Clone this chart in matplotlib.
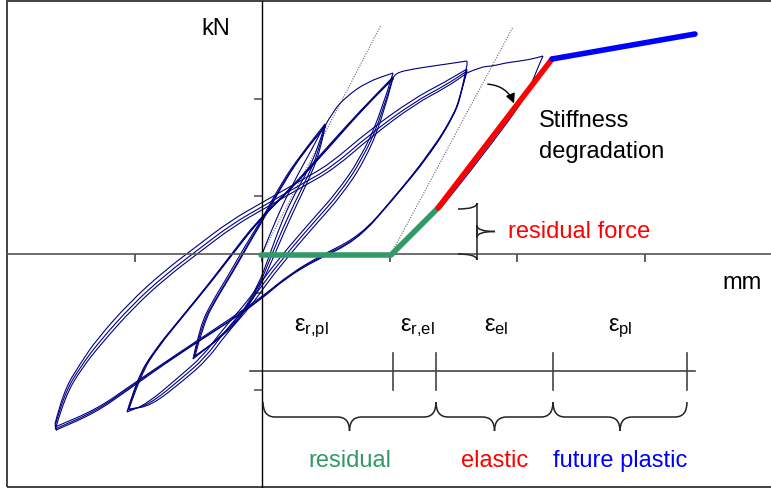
import numpy as np
import matplotlib
matplotlib.use("Agg")
import matplotlib.pyplot as plt
from matplotlib.path import Path
from matplotlib.patches import PathPatch, Rectangle

plt.rcParams['font.family'] = ['Liberation Sans', 'DejaVu Sans']
plt.rcParams['mathtext.fontset'] = 'custom'
plt.rcParams['mathtext.rm'] = 'Liberation Sans'
plt.rcParams['mathtext.it'] = 'Liberation Sans'

# --- hysteresis test record (displacement "mm", force "kN"; arbitrary scale) ---
first_load = [(0, 0), (8, 20), (21, 50), (36, 80), (50, 105), (63, 130)]
a_cycle1 = [(63, 130), (56, 105), (43, 78), (30, 55), (18, 28), (8, 0), (-4, -32), (-22, -62),
            (-44, -85), (-69, -105), (-62, -72), (-50, -48), (-34, -22), (-17, 8), (0, 35),
            (20, 72), (38, 98), (63, 130)]
a_cycle2 = [(63, 128), (57, 103), (45, 76), (33, 52), (21, 26), (10, 0), (-2, -30), (-19, -60),
            (-41, -84), (-68, -103), (-60, -70), (-47, -46), (-31, -20), (-14, 10), (2, 37),
            (22, 73), (40, 100), (63, 128)]
a_cycle3 = [(63, 127), (58, 102), (47, 75), (35, 50), (23, 24), (12, -2), (0, -29), (-17, -58),
            (-39, -82), (-67, -102), (-58, -68), (-45, -44), (-29, -18), (-12, 12), (4, 39),
            (24, 75), (42, 102), (63, 127)]
env_ab = [(63, 128), (71, 143), (85, 158), (105, 172), (131, 181)]
b_cycle1 = [(131, 181), (118, 138), (98, 95), (75, 62), (51, 35), (25, 5), (1, -25), (-15, -48),
            (-39, -75), (-59, -102), (-82, -122), (-115, -150), (-135, -158), (-125, -125),
            (-109, -98), (-82, -65), (-55, -32), (-32, -2), (-5, 33), (28, 65), (68, 110),
            (98, 143), (131, 177)]
b_cycle2 = [(131, 177), (119, 136), (100, 94), (77, 60), (53, 33), (27, 3), (3, -27), (-13, -50),
            (-37, -77), (-57, -104), (-80, -124), (-113, -151), (-134, -156), (-123, -122),
            (-106, -95), (-79, -62), (-52, -29), (-29, 1), (-2, 35), (31, 67), (70, 111),
            (100, 144), (131, 176)]
b_cycle3 = [(131, 176), (120, 134), (102, 92), (79, 58), (55, 31), (29, 1), (5, -29), (-11, -52),
            (-35, -79), (-55, -106), (-78, -126), (-111, -152), (-133, -155), (-121, -120),
            (-104, -93), (-77, -60), (-50, -27), (-27, 3), (0, 37), (33, 69), (72, 112),
            (101, 145), (131, 175)]
env_bc = [(131, 176), (133, 181), (151, 185), (171, 188), (185, 190), (205, 193)]
c_cycle1 = [(205, 193), (205, 189), (200, 165), (195, 145), (171, 105), (131, 55), (98, 18),
            (58, -2), (28, -20), (1, -42), (-32, -65), (-82, -98), (-132, -132), (-165, -155),
            (-207, -173), (-207, -170), (-199, -138), (-182, -110), (-165, -85), (-132, -48),
            (-99, -18), (-65, 8), (-32, 33), (1, 52), (38, 73), (68, 90), (105, 122),
            (151, 155), (183, 172), (205, 185)]
c_cycle2 = [(205, 185), (199, 160), (193, 140), (169, 101), (129, 52), (96, 15), (56, -4),
            (26, -22), (-1, -45), (-34, -68), (-84, -100), (-133, -134), (-166, -157),
            (-207, -175), (-207, -172), (-198, -140), (-181, -112), (-163, -88), (-130, -51),
            (-97, -21), (-63, 5), (-30, 30), (3, 49), (40, 70), (70, 87), (107, 119),
            (152, 152), (184, 169), (205, 183)]
c_cycle3 = [(205, 183), (198, 157), (191, 137), (167, 98), (127, 50), (94, 13), (54, -6),
            (24, -24), (-3, -47), (-36, -70), (-86, -102), (-134, -136), (-167, -159),
            (-206, -176), (-206, -173), (-197, -142), (-180, -114), (-161, -90), (-128, -53),
            (-95, -23), (-61, 3), (-28, 28), (5, 47), (42, 68), (72, 85), (109, 117),
            (153, 150), (185, 167), (205, 181)]
env_cd = [(205, 181), (218, 187), (231, 188), (243, 191), (258, 193), (270, 195), (281, 198)]
d_unload = [(281, 198), (273, 180), (265, 158), (218, 95), (178, 45)]

# initial stiffness and secant lines
stiff_initial = [(0, 0), (119, 229)]
stiff_degraded = [(129, 0), (251, 227)]

# idealised envelope
residual_pts = [(-1, -1), (129, -1), (176, 46)]
elastic_pts = [(176, 46), (290, 195)]
plastic_pts = [(290, 195), (433, 220)]

# strain decomposition
strain_marks = [131, 174, 291, 425]
strain_line = (-12, 433)
eps_labels = [r'$\mathrm{ε_{r{,}pl}}$', r'$\mathrm{ε_{r{,}el}}$', r'$\mathrm{ε_{el}}$', r'$\mathrm{ε_{pl}}$']
eps_x = [49, 155, 234, 358]
parts = [(1, 174, 'residual', '#339966'), (174, 291, 'elastic', '#ff0000'),
         (291, 425, 'future plastic', '#0000ff')]

xticks = [-255, -127.5, 0, 127.5, 255, 382.5]
yticks = [155, 58, -39, -136]

fig = plt.figure(figsize=(7.71, 4.89), dpi=100)
ax = fig.add_axes([7 / 771, 1 / 489, 764 / 771, 486 / 489])
ax.set_xlim(-255, 509)
ax.set_ylim(-233, 253)

for s in ['top', 'right']:
    ax.spines[s].set_visible(False)
ax.spines['left'].set_position(('data', 0))
ax.spines['bottom'].set_position(('data', 0))
ax.spines['left'].set_color('black')
ax.spines['left'].set_linewidth(1.0)
ax.spines['bottom'].set_color('#555555')
ax.spines['bottom'].set_linewidth(1.2)
ax.set_xticks(xticks)
ax.set_yticks(yticks)
ax.tick_params(axis='x', direction='out', length=6, width=1.2, color='#444444', labelbottom=False)
ax.tick_params(axis='y', direction='out', length=6, width=1.3, color='#666666', labelleft=False)

# frame
ax.add_patch(Rectangle((0, 0), 1.02, 1, transform=ax.transAxes, fill=False,
                       lw=1.3, ec='#333333', clip_on=False))

# dotted stiffness lines
for ln in (stiff_initial, stiff_degraded):
    p = np.array(ln)
    ax.plot(p[:, 0], p[:, 1], color='#666666', lw=0.8, ls=(0, (1, 1.3)))

# hysteresis loops: split the record at load reversals, draw each branch as a smooth curve
record = np.array(first_load + a_cycle1 + a_cycle2 + a_cycle3 + env_ab + b_cycle1 + b_cycle2 +
                  b_cycle3 + env_bc + c_cycle1 + c_cycle2 + c_cycle3 + env_cd + d_unload,
                  dtype=float)
sgn = np.sign(np.diff(record[:, 0]))
cuts = [0] + [i for i in range(1, len(sgn)) if sgn[i] != sgn[i - 1]] + [len(record) - 1]
for s0, s1 in zip(cuts[:-1], cuts[1:]):
    seg = record[s0:s1 + 1]
    verts = [seg[0]]
    codes = [Path.MOVETO]
    for i in range(1, len(seg) - 1):
        verts += [seg[i], (seg[i] + seg[i + 1]) / 2]
        codes += [Path.CURVE3, Path.CURVE3]
    verts.append(seg[-1])
    codes.append(Path.LINETO)
    ax.add_patch(PathPatch(Path(verts, codes), fill=False, ec='#000080', lw=0.8, zorder=2))

# idealised envelope
for pts, col in ((residual_pts, '#339966'), (elastic_pts, '#ff0000'), (plastic_pts, '#0000ff')):
    p = np.array(pts)
    ax.plot(p[:, 0], p[:, 1], color=col, lw=4, solid_capstyle='round', zorder=4)


def brace(a, b, c0, c1, c2, r, vertical=False):
    m = (a + b) / 2
    for end, d in ((a, 1), (b, -1)):
        pts = [(end, c0), (end, c1), (end + d * r, c1), (m - d * r, c1), (m, c1), (m, c2)]
        if vertical:
            pts = [(q, p) for p, q in pts]
        codes = [Path.MOVETO, Path.CURVE3, Path.CURVE3, Path.LINETO, Path.CURVE3, Path.CURVE3]
        ax.add_patch(PathPatch(Path(pts, codes), fill=False, lw=1.1, ec='#222222', zorder=5))


# strain bar
ax.plot(strain_line, [-117, -117], color='#444444', lw=1.2)
for xm in strain_marks:
    ax.plot([xm, xm], [-99, -136], color='#444444', lw=1.2)
for lab, xe in zip(eps_labels, eps_x):
    ax.text(xe, -76, lab, fontsize=17, ha='center', va='baseline')
for a, b, name, col in parts:
    brace(a, b, -148, -163, -177, 12)
    ax.text((a + b) / 2, -212, name, color=col, fontsize=17, ha='center', va='baseline')

# residual force brace
brace(45, 0, 196, 215, 233, 6, vertical=True)
ax.text(246, 17, 'residual force', color='#ff0000', fontsize=17, ha='left', va='baseline')

# stiffness degradation arrow
ax.annotate('', xy=(253, 148), xytext=(223, 170),
            arrowprops=dict(arrowstyle='-|>', connectionstyle='arc3,rad=-0.35',
                            color='black', lw=1.0, mutation_scale=14), zorder=6)
ax.text(277, 128, 'Stiffness', fontsize=17, ha='left', va='baseline')
ax.text(277, 97, 'degradation', fontsize=17, ha='left', va='baseline')

ax.text(-46, 220, 'kN', fontsize=17, ha='center', va='baseline')
ax.text(480, -34, 'mm', fontsize=17, ha='center', va='baseline')

fig.savefig('out.png', dpi=100)
